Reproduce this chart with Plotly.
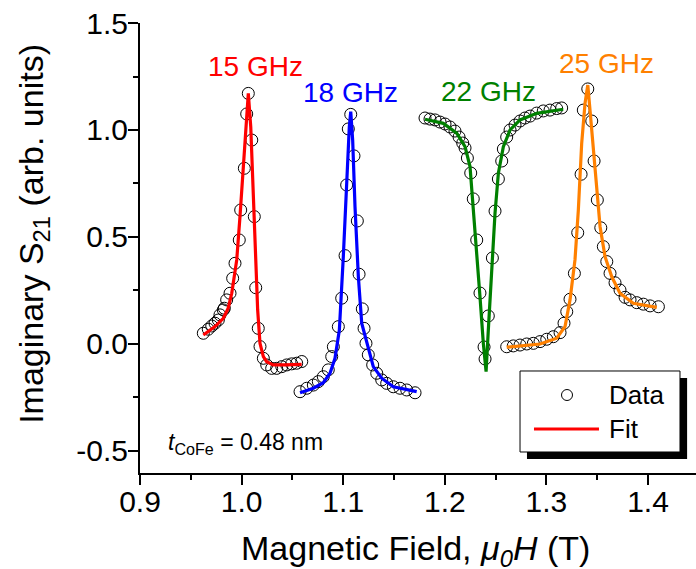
import plotly.graph_objects as go

# ---------------- data ----------------
x_tick_vals = [0.9, 1.0, 1.1, 1.2, 1.3, 1.4]
x_tick_text = ["0.9", "1.0", "1.1", "1.2", "1.3", "1.4"]
y_tick_vals = [-0.5, 0.0, 0.5, 1.0, 1.5]
y_tick_text = ["-0.5", "0.0", "0.5", "1.0", "1.5"]

freq_labels = ["15 GHz", "18 GHz", "22 GHz", "25 GHz"]
freq_colors = ["#ff0000", "#0000ff", "#008000", "#ff8000"]
label_x = [1.0132, 1.1067, 1.2425, 1.3596]
label_y = [1.299, 1.173, 1.182, 1.313]

f15_data_x = [0.9623, 0.9672, 0.9706, 0.9738, 0.9771, 0.9787, 0.9820, 0.9830, 0.9853, 0.9886,
              0.9912, 0.9935, 0.9977, 0.9991, 1.0027, 1.0050, 1.0066, 1.0100, 1.0125, 1.0139,
              1.0164, 1.0181, 1.0214, 1.0247, 1.0296, 1.0345, 1.0395, 1.0444, 1.0493, 1.0542, 1.0592]
f15_data_y = [0.050, 0.069, 0.084, 0.097, 0.112, 0.136, 0.159, 0.167, 0.206, 0.237,
              0.307, 0.377, 0.486, 0.626, 0.821, 1.075, 1.171, 0.953, 0.595, 0.263,
              0.073, -0.012, -0.067, -0.098, -0.114, -0.114, -0.106, -0.098, -0.093, -0.090, -0.082]
f15_fit_x = [0.9623, 0.9738, 0.9820, 0.9868, 0.9903, 0.9952, 0.9984, 1.0017, 1.0043, 1.0066,
             1.0090, 1.0109, 1.0132, 1.0158, 1.0181, 1.0214, 1.0247, 1.0311, 1.0427, 1.0591]
f15_fit_y = [0.042, 0.081, 0.120, 0.167, 0.237, 0.393, 0.595, 0.813, 1.015, 1.171,
             1.015, 0.782, 0.471, 0.159, 0.003, -0.059, -0.083, -0.098, -0.098, -0.095]

f18_data_x = [1.0575, 1.0641, 1.0706, 1.0755, 1.0804, 1.0853, 1.0887, 1.0903, 1.0952, 1.0985,
              1.1018, 1.1034, 1.1050, 1.1074, 1.1106, 1.1139, 1.1156, 1.1188, 1.1205, 1.1224,
              1.1247, 1.1290, 1.1330, 1.1379, 1.1428, 1.1493, 1.1559, 1.1625, 1.1707]
f18_data_y = [-0.223, -0.207, -0.192, -0.176, -0.153, -0.121, -0.059, -0.013, 0.081, 0.214,
              0.413, 0.743, 1.005, 1.073, 0.879, 0.575, 0.326, 0.164, 0.073, 0.003,
              -0.051, -0.098, -0.137, -0.168, -0.184, -0.200, -0.207, -0.215, -0.228]
f18_fit_x = [1.0575, 1.0706, 1.0804, 1.0870, 1.0919, 1.0962, 1.1001, 1.1034, 1.1060, 1.1074,
             1.1093, 1.1116, 1.1149, 1.1182, 1.1214, 1.1247, 1.1296, 1.1379, 1.1493, 1.1723]
f18_fit_y = [-0.228, -0.207, -0.181, -0.137, -0.067, 0.065, 0.408, 0.798, 1.015, 1.086,
             0.953, 0.642, 0.314, 0.097, 0.042, -0.028, -0.106, -0.160, -0.200, -0.223]

f22_data_x = [1.1805, 1.1854, 1.1904, 1.1953, 1.2002, 1.2051, 1.2100, 1.2140, 1.2176, 1.2199,
              1.2222, 1.2255, 1.2280, 1.2314, 1.2346, 1.2386, 1.2396, 1.2428, 1.2468, 1.2494,
              1.2527, 1.2560, 1.2576, 1.2609, 1.2642, 1.2691, 1.2740, 1.2789, 1.2839, 1.2904,
              1.2969, 1.3035, 1.3101, 1.3150]
f22_data_y = [1.056, 1.051, 1.047, 1.037, 1.028, 1.014, 0.995, 0.967, 0.939, 0.916,
              0.869, 0.799, 0.678, 0.486, 0.238, -0.014, -0.070, 0.131, 0.402, 0.621,
              0.771, 0.855, 0.911, 0.967, 1.000, 1.023, 1.042, 1.056, 1.065, 1.079,
              1.089, 1.093, 1.100, 1.103]
f22_fit_x = [1.1805, 1.1985, 1.2117, 1.2199, 1.2248, 1.2280, 1.2314, 1.2346, 1.2379, 1.2406,
             1.2428, 1.2455, 1.2494, 1.2527, 1.2576, 1.2642, 1.2740, 1.2904, 1.3165]
f22_fit_y = [1.050, 1.031, 0.985, 0.922, 0.829, 0.642, 0.439, 0.221, 0.003, -0.129,
             0.065, 0.314, 0.611, 0.798, 0.922, 1.000, 1.047, 1.078, 1.097]

f25_data_x = [1.2609, 1.2674, 1.2740, 1.2806, 1.2871, 1.2937, 1.3003, 1.3068, 1.3134, 1.3173,
              1.3200, 1.3232, 1.3275, 1.3308, 1.3341, 1.3363, 1.3407, 1.3446, 1.3469, 1.3501,
              1.3535, 1.3560, 1.3594, 1.3626, 1.3675, 1.3724, 1.3774, 1.3823, 1.3889, 1.3954,
              1.4020, 1.4102]
f25_data_y = [-0.013, -0.009, -0.005, 0.000, 0.003, 0.011, 0.022, 0.034, 0.053, 0.097,
              0.151, 0.209, 0.330, 0.520, 0.793, 1.093, 1.192, 1.042, 0.855, 0.673,
              0.543, 0.455, 0.385, 0.330, 0.286, 0.252, 0.218, 0.206, 0.193, 0.186,
              0.178, 0.174]
f25_fit_x = [1.2609, 1.2937, 1.3101, 1.3183, 1.3232, 1.3281, 1.3314, 1.3347, 1.3380, 1.3407,
             1.3429, 1.3462, 1.3495, 1.3528, 1.3577, 1.3643, 1.3724, 1.3855, 1.4086]
f25_fit_y = [-0.015, 0.000, 0.027, 0.081, 0.206, 0.393, 0.626, 0.938, 1.125, 1.210,
             1.093, 0.907, 0.704, 0.548, 0.408, 0.314, 0.237, 0.190, 0.171]

data_x = [f15_data_x, f18_data_x, f22_data_x, f25_data_x]
data_y = [f15_data_y, f18_data_y, f22_data_y, f25_data_y]
fit_x = [f15_fit_x, f18_fit_x, f22_fit_x, f25_fit_x]
fit_y = [f15_fit_y, f18_fit_y, f22_fit_y, f25_fit_y]

# ---------------- figure ----------------
FONT = "Liberation Sans, Arial, sans-serif"
fig = go.Figure()

for i in range(4):
    fig.add_trace(go.Scatter(
        x=data_x[i], y=data_y[i], mode="markers", showlegend=False,
        marker=dict(symbol="circle-open", size=12, color="black", line=dict(width=1, color="black")),
    ))
for i in range(4):
    fig.add_trace(go.Scatter(
        x=fit_x[i], y=fit_y[i], mode="lines", showlegend=False,
        line=dict(color=freq_colors[i], width=3.2),
    ))

for i in range(4):
    fig.add_annotation(x=label_x[i], y=label_y[i], xref="x", yref="y", text=freq_labels[i],
                       showarrow=False, font=dict(family=FONT, size=28, color=freq_colors[i]))

# thickness annotation
fig.add_annotation(x=0.046, y=0.066, xref="paper", yref="paper", xanchor="left", yanchor="middle",
                   text="<i>t</i><sub>CoFe</sub> = 0.48 nm", showarrow=False,
                   font=dict(family=FONT, size=23, color="black"))

# axis titles
fig.add_annotation(x=0.495, y=-0.172, xref="paper", yref="paper", xanchor="center", yanchor="middle",
                   text="Magnetic Field, <i>μ<sub>0</sub>H</i> (T)", showarrow=False,
                   font=dict(family=FONT, size=34, color="black"))
fig.add_annotation(x=-0.192, y=0.532, xref="paper", yref="paper", xanchor="center", yanchor="middle",
                   text="Imaginary S<sub>21</sub> (arb. units)", showarrow=False, textangle=-90,
                   font=dict(family=FONT, size=34, color="black"))

# manual legend with shadow
fig.add_shape(type="rect", xref="paper", yref="paper", x0=0.696, x1=0.984, y0=0.031, y1=0.211,
              fillcolor="black", line=dict(width=0), layer="above")
fig.add_shape(type="rect", xref="paper", yref="paper", x0=0.6835, x1=0.9712, y0=0.0467, y1=0.2267,
              fillcolor="white", line=dict(width=1, color="black"), layer="above")
fig.add_shape(type="circle", xref="paper", yref="paper", xsizemode="pixel", ysizemode="pixel",
              xanchor=0.768, yanchor=0.1733, x0=-5.5, x1=5.5, y0=-5.5, y1=5.5,
              line=dict(width=1, color="black"), fillcolor="rgba(0,0,0,0)", layer="above")
fig.add_shape(type="line", xref="paper", yref="paper", x0=0.7086, x1=0.8255, y0=0.0978, y1=0.0978,
              line=dict(width=3, color="#ff0000"), layer="above")
fig.add_annotation(x=0.84, y=0.1733, xref="paper", yref="paper", xanchor="left", yanchor="middle",
                   text="Data", showarrow=False, font=dict(family=FONT, size=26, color="black"))
fig.add_annotation(x=0.84, y=0.0978, xref="paper", yref="paper", xanchor="left", yanchor="middle",
                   text="Fit", showarrow=False, font=dict(family=FONT, size=26, color="black"))

axis_common = dict(showgrid=False, zeroline=False, linecolor="black", linewidth=2,
                   tickcolor="black", tickwidth=1.5)

fig.update_layout(
    width=696, height=569,
    margin=dict(l=140, r=0, t=23, b=96),
    paper_bgcolor="white", plot_bgcolor="white",
    showlegend=False,
    xaxis=dict(range=[0.9, 1.4472], tickvals=x_tick_vals, ticktext=x_tick_text,
               ticks="outside", ticklen=10, showline=True, ticklabelstandoff=-9,
               minor=dict(dtick=0.05, tick0=0.9, ticks="outside", ticklen=5, tickcolor="black", tickwidth=1.5),
               tickfont=dict(family=FONT, size=30, color="black"), **axis_common),
    yaxis=dict(range=[-0.603, 1.5], tickvals=y_tick_vals, ticktext=y_tick_text,
               ticks="outside", ticklen=10, showline=True, ticklabelstandoff=-6,
               minor=dict(dtick=0.25, tick0=0, ticks="outside", ticklen=5, tickcolor="black", tickwidth=1.5),
               tickfont=dict(family=FONT, size=30, color="black"), **axis_common),
    xaxis2=dict(overlaying="x", matches="x", side="top", anchor="y", tickvals=x_tick_vals,
                ticks="inside", ticklen=10, showline=True, showticklabels=False,
                minor=dict(dtick=0.05, tick0=0.9, ticks="inside", ticklen=5, tickcolor="black", tickwidth=1.5),
                **axis_common),
    yaxis2=dict(overlaying="y", matches="y", side="right", anchor="x", tickvals=y_tick_vals,
                ticks="inside", ticklen=7, showline=False, showticklabels=False,
                minor=dict(dtick=0.25, tick0=0, ticks="inside", ticklen=3, tickcolor="black", tickwidth=1.5),
                **axis_common),
)

fig.write_html("out.html")
